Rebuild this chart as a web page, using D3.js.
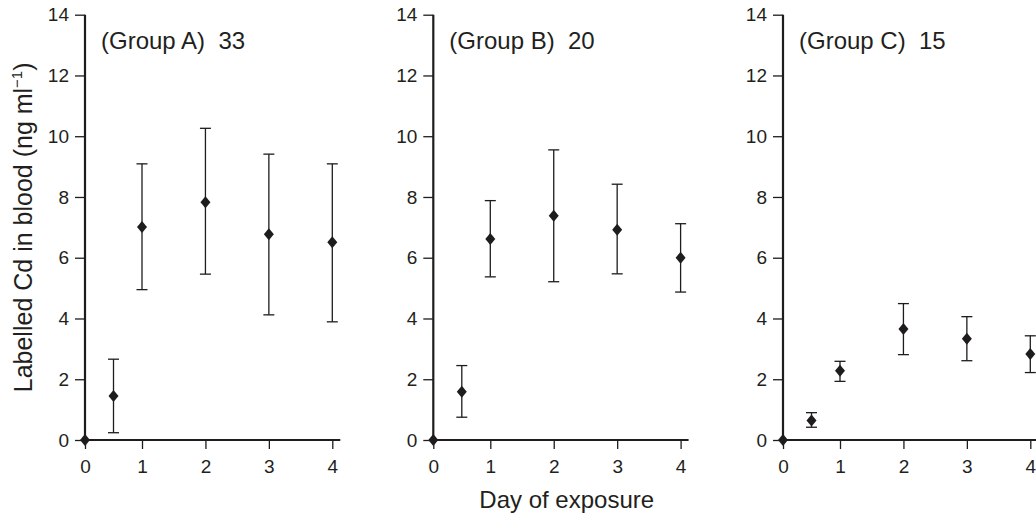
<!DOCTYPE html>
<html>
<head>
<meta charset="utf-8">
<script src="https://cdn.jsdelivr.net/npm/d3@7"></script>
<style>
  html, body { margin: 0; padding: 0; background: #fff; }
  svg { display: block; }
  text { font-family: "Liberation Sans", Arial, Helvetica, sans-serif; fill: #231f20; }
</style>
</head>
<body>
<svg id="chart" width="1036" height="519"></svg>
<script>
// ---- data ----
const days = [0, 0.5, 1, 2, 3, 4];
const groupNames = ["(Group A)  33", "(Group B)  20", "(Group C)  15"];
const groupA_mean  = [0, 1.45, 7.01, 7.83, 6.77, 6.51];
const groupA_upper = [null, 2.66, 9.09, 10.26, 9.41, 9.09];
const groupA_lower = [null, 0.24, 4.95, 5.46, 4.12, 3.89];
const groupB_mean  = [0, 1.59, 6.62, 7.38, 6.92, 6.00];
const groupB_upper = [null, 2.45, 7.88, 9.55, 8.42, 7.12];
const groupB_lower = [null, 0.75, 5.37, 5.21, 5.47, 4.87];
const groupC_mean  = [0, 0.64, 2.28, 3.65, 3.33, 2.83];
const groupC_upper = [null, 0.90, 2.59, 4.49, 4.06, 3.43];
const groupC_lower = [null, 0.42, 1.93, 2.81, 2.61, 2.22];
const xTicks = [0, 1, 2, 3, 4];
const yTicks = [0, 2, 4, 6, 8, 10, 12, 14];
const yLabel = "Labelled Cd in blood (ng ml";
const yLabelSup = "\u22121";
const xLabel = "Day of exposure";

// ---- layout ----
const svg = d3.select("#chart");
const ink = "#1e1c1d";
const panelLeft = [85, 433.3, 783];
const yTop = 14.7, yBottom = 440;
const series = [
  { mean: groupA_mean, upper: groupA_upper, lower: groupA_lower },
  { mean: groupB_mean, upper: groupB_upper, lower: groupB_lower },
  { mean: groupC_mean, upper: groupC_upper, lower: groupC_lower }
];

const y = d3.scaleLinear().domain([0, 14]).range([yBottom, yTop]);

series.forEach((s, i) => {
  const x0 = panelLeft[i];
  const x = d3.scaleLinear().domain([0, 1, 4]).range([x0, x0 + 57, x0 + 247.3]);
  const g = svg.append("g");

  // y axis
  const ya = g.append("g").attr("transform", `translate(${x0},0)`)
    .call(d3.axisLeft(y).tickValues(yTicks).tickSize(10).tickSizeOuter(0).tickPadding(6));
  ya.select(".domain").remove();
  ya.selectAll(".tick line").attr("stroke", ink).attr("stroke-width", 1.3);
  ya.selectAll(".tick text").attr("font-size", 19).attr("fill", "#231f20")
    .style("font-family", '"Liberation Sans", Arial, sans-serif');

  // x axis
  const xa = g.append("g").attr("transform", `translate(0,${yBottom})`)
    .call(d3.axisBottom(x).tickValues(xTicks).tickFormat(d3.format("d")).tickSize(9).tickSizeOuter(0).tickPadding(11));
  xa.select(".domain").remove();
  xa.selectAll(".tick line").attr("stroke", ink).attr("stroke-width", 1.3);
  xa.selectAll(".tick text").attr("font-size", 19).attr("fill", "#231f20")
    .style("font-family", '"Liberation Sans", Arial, sans-serif');

  // axis lines
  g.append("line").attr("x1", x(0)).attr("x2", x(0)).attr("y1", y(14)).attr("y2", y(0) + 1)
    .attr("stroke", ink).attr("stroke-width", 2.2);
  g.append("line").attr("x1", x(0) - 1).attr("x2", x(4) + 8).attr("y1", y(0)).attr("y2", y(0))
    .attr("stroke", ink).attr("stroke-width", 2.2);

  // title
  g.append("text").attr("x", x0 + 16).attr("y", 49)
    .attr("font-size", 24).attr("xml:space", "preserve").style("white-space", "pre")
    .text(groupNames[i]);

  // error bars
  const idx = d3.range(days.length).filter(k => s.upper[k] != null);
  g.selectAll("line.err").data(idx).join("line").attr("class", "err")
    .attr("x1", k => x(days[k])).attr("x2", k => x(days[k]))
    .attr("y1", k => y(s.upper[k])).attr("y2", k => y(s.lower[k]))
    .attr("stroke", ink).attr("stroke-width", 1.3);
  g.selectAll("line.capT").data(idx).join("line").attr("class", "capT")
    .attr("x1", k => x(days[k]) - 5.5).attr("x2", k => x(days[k]) + 5.5)
    .attr("y1", k => y(s.upper[k])).attr("y2", k => y(s.upper[k]))
    .attr("stroke", ink).attr("stroke-width", 1.3);
  g.selectAll("line.capB").data(idx).join("line").attr("class", "capB")
    .attr("x1", k => x(days[k]) - 5.5).attr("x2", k => x(days[k]) + 5.5)
    .attr("y1", k => y(s.lower[k])).attr("y2", k => y(s.lower[k]))
    .attr("stroke", ink).attr("stroke-width", 1.3);

  // diamonds
  const dw = 5, dh = 6;
  g.selectAll("path.pt").data(d3.range(days.length)).join("path").attr("class", "pt")
    .attr("transform", k => `translate(${x(days[k])},${y(s.mean[k])})`)
    .attr("d", `M0,${-dh}L${dw},0L0,${dh}L${-dw},0Z`)
    .attr("fill", ink);
});

// y axis label
const yl = svg.append("text")
  .attr("transform", `translate(32,${(yTop + yBottom) / 2}) rotate(-90)`)
  .attr("text-anchor", "middle").attr("font-size", 25);
yl.append("tspan").text(yLabel);
yl.append("tspan").attr("font-size", 15).attr("dy", -10).text(yLabelSup);
yl.append("tspan").attr("dy", 10).text(")");

// x axis label
svg.append("text").attr("x", 566.7).attr("y", 508)
  .attr("text-anchor", "middle").attr("font-size", 24).text(xLabel);
</script>
</body>
</html>
